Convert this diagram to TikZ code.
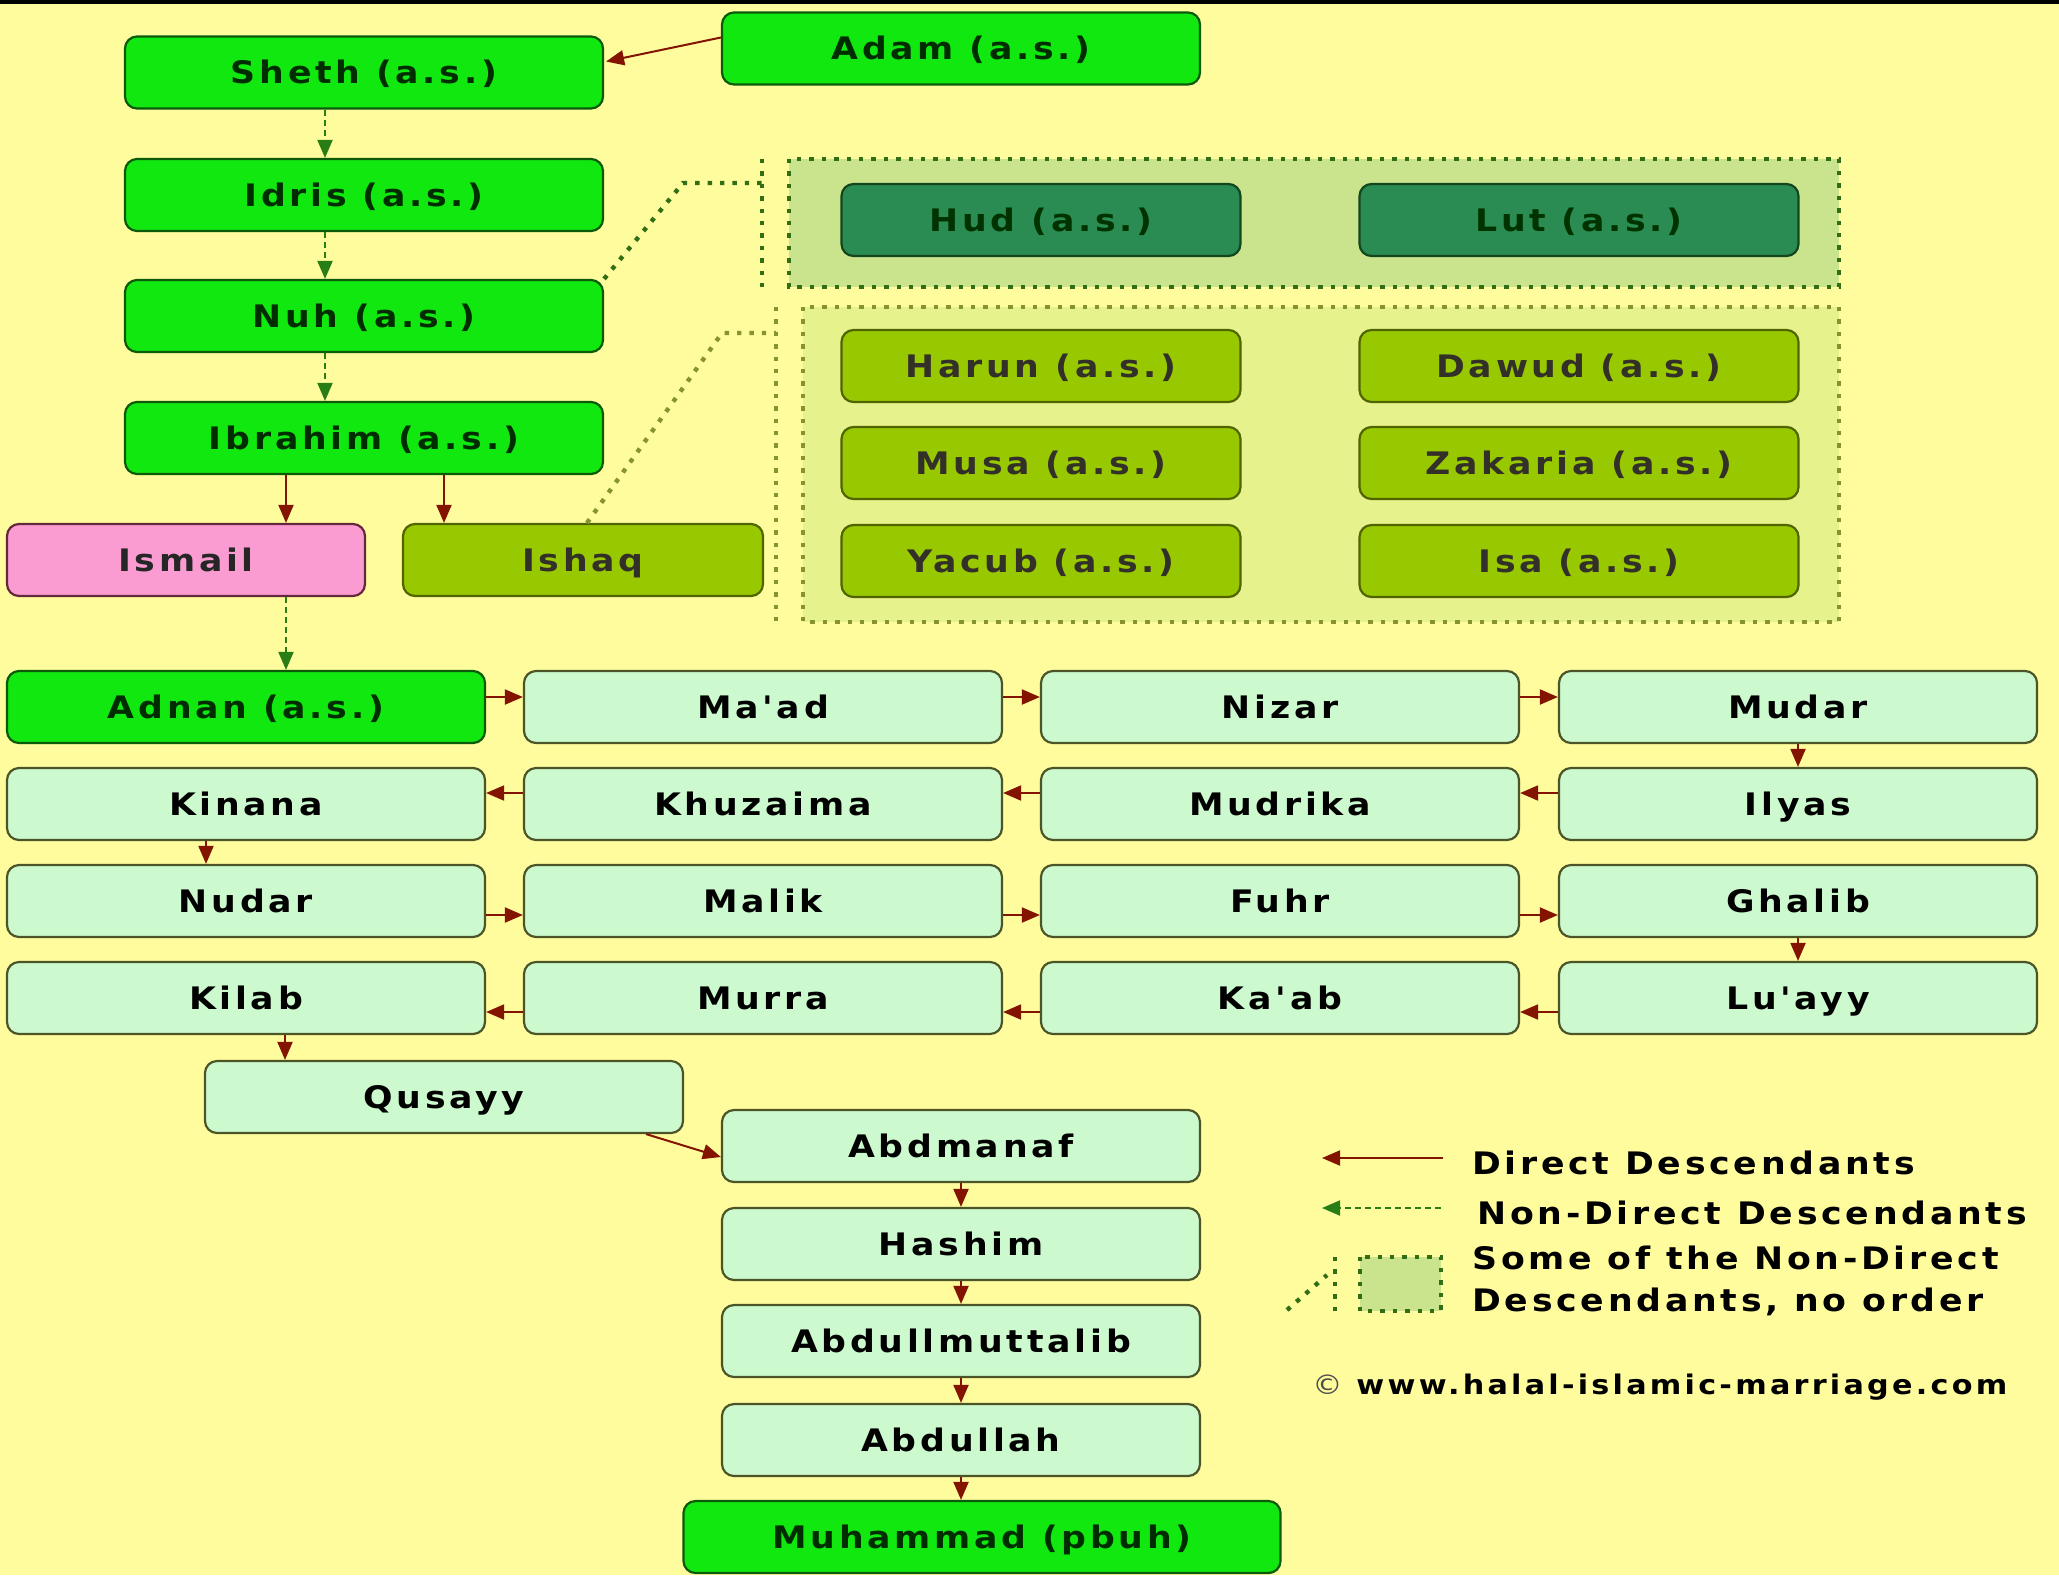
\documentclass[tikz,border=0pt]{standalone}
\usepackage{fontspec}
\usepackage{tikz}
\usetikzlibrary{arrows.meta,calc}
\newfontfamily\boxfont{DejaVu Sans}[FakeStretch=1.12,LetterSpace=12]

\definecolor{bgyellow}{RGB}{255,252,158}
\definecolor{limefill}{RGB}{16,232,16}
\definecolor{limeline}{RGB}{10,90,10}
\definecolor{limetext}{RGB}{0,45,0}
\definecolor{mintfill}{RGB}{204,250,206}
\definecolor{mintline}{RGB}{75,85,40}
\definecolor{pinkfill}{RGB}{250,155,210}
\definecolor{pinkline}{RGB}{100,40,60}
\definecolor{olivefill}{RGB}{152,200,0}
\definecolor{oliveline}{RGB}{80,100,0}
\definecolor{tealfill}{RGB}{42,140,82}
\definecolor{tealline}{RGB}{20,70,30}
\definecolor{groupone}{RGB}{202,228,142}
\definecolor{grouptwo}{RGB}{230,242,140}
\definecolor{dotgreen}{RGB}{50,110,20}
\definecolor{dotolive}{RGB}{135,148,45}
\definecolor{arrowred}{RGB}{130,20,0}
\definecolor{arrowgreen}{RGB}{40,125,20}

\tikzset{
  person/.style={draw, rounded corners=6pt, line width=1.1pt, minimum width=239pt,
    minimum height=36pt, inner sep=0pt, text height=11.3pt, text depth=0pt,
    font=\boxfont\bfseries\fontsize{15.5}{18}\selectfont},
  limebox/.style={person, fill=limefill, draw=limeline, text=limetext},
  mintbox/.style={person, fill=mintfill, draw=mintline, text=black},
  pinkbox/.style={person, fill=pinkfill, draw=pinkline, text=black!85, minimum width=179pt},
  olivebox/.style={person, fill=olivefill, draw=oliveline, text=black!85!olive},
  tealbox/.style={person, fill=tealfill, draw=tealline, text=black!80!green},
  direct/.style={draw=arrowred, line width=1pt, -{Triangle[length=9pt,width=7.5pt]}, arrowred},
  indirect/.style={draw=arrowgreen, line width=1pt, dash pattern=on 3pt off 2pt,
    -{Triangle[length=9pt,width=7.5pt]}, arrowgreen},
  dotline/.style={line width=2.2pt, dash pattern=on 2.2pt off 4pt},
  keytext/.style={anchor=west, inner sep=0pt, font=\boxfont\bfseries\fontsize{15.5}{21}\selectfont}
}

\begin{document}
\begin{tikzpicture}[x=0.5pt,y=0.5pt,yscale=-1,xscale=1]
\useasboundingbox (0,0) rectangle (2059,1575);
% background and top rule
\fill[bgyellow] (0,0) rectangle (2059,1575);
\fill[black] (0,0) rectangle (2059,4);

% groups of non-direct descendants
\draw[dotline, draw=dotgreen, fill=groupone] (789,159) rectangle (1839,287);
\draw[dotline, draw=dotgreen] (762,159) -- (762,287);
\draw[dotline, draw=dotolive, fill=grouptwo] (803,307) rectangle (1839,622);
\draw[dotline, draw=dotolive] (776,307) -- (776,622);
\coordinate (barone) at (762,183);
\coordinate (bartwo) at (776,333);

% first line
\node[limebox] (adam) at (961,48.5) {Adam (a.s.)};
\node[limebox] (sheth) at (364,72.5) {Sheth (a.s.)};
\node[limebox] (idris) at (364,195) {Idris (a.s.)};
\node[limebox] (nuh) at (364,316) {Nuh (a.s.)};
\node[limebox] (ibrahim) at (364,438) {Ibrahim (a.s.)};
\node[pinkbox] (ismail) at (186,560) {Ismail};
\node[olivebox, minimum width=180pt] (ishaq) at (583,560) {Ishaq};

% non-direct descendants
\node[tealbox, minimum width=199.5pt] (hud) at (1041,220) {Hud (a.s.)};
\node[tealbox, minimum width=219.5pt] (lut) at (1579,220) {Lut (a.s.)};
\node[olivebox, minimum width=199.5pt] (harun) at (1041,366) {Harun (a.s.)};
\node[olivebox, minimum width=199.5pt] (musa) at (1041,463) {Musa (a.s.)};
\node[olivebox, minimum width=199.5pt] (yacub) at (1041,561) {Yacub (a.s.)};
\node[olivebox, minimum width=219.5pt] (dawud) at (1579,366) {Dawud (a.s.)};
\node[olivebox, minimum width=219.5pt] (zakaria) at (1579,463) {Zakaria (a.s.)};
\node[olivebox, minimum width=219.5pt] (isa) at (1579,561) {Isa (a.s.)};

% grid
\node[limebox] (adnan) at (246,707) {Adnan (a.s.)};
\node[mintbox] (maad) at (763,707) {Ma'ad};
\node[mintbox] (nizar) at (1280,707) {Nizar};
\node[mintbox] (mudar) at (1798,707) {Mudar};
\node[mintbox] (kinana) at (246,804) {Kinana};
\node[mintbox] (khuzaima) at (763,804) {Khuzaima};
\node[mintbox] (mudrika) at (1280,804) {Mudrika};
\node[mintbox] (ilyas) at (1798,804) {Ilyas};
\node[mintbox] (nudar) at (246,901) {Nudar};
\node[mintbox] (malik) at (763,901) {Malik};
\node[mintbox] (fuhr) at (1280,901) {Fuhr};
\node[mintbox] (ghalib) at (1798,901) {Ghalib};
\node[mintbox] (kilab) at (246,998) {Kilab};
\node[mintbox] (murra) at (763,998) {Murra};
\node[mintbox] (kaab) at (1280,998) {Ka'ab};
\node[mintbox] (luayy) at (1798,998) {Lu'ayy};

% last line
\node[mintbox] (qusayy) at (444,1097) {Qusayy};
\node[mintbox] (abdmanaf) at (961,1146) {Abdmanaf};
\node[mintbox] (hashim) at (961,1244) {Hashim};
\node[mintbox] (muttalib) at (961,1341) {Abdullmuttalib};
\node[mintbox] (abdullah) at (961,1440) {Abdullah};
\node[limebox, minimum width=298.5pt] (muhammad) at (982,1537) {Muhammad (pbuh)};

% connectors
\draw[direct] ($(adam.west)+(0,-11)$) -- ($(sheth.east)+(2,-11)$);
\draw[indirect] ($(sheth.south)+(-39,0)$) -- ($(idris.north)+(-39,0)$);
\draw[indirect] ($(idris.south)+(-39,0)$) -- ($(nuh.north)+(-39,0)$);
\draw[indirect] ($(nuh.south)+(-39,0)$) -- ($(ibrahim.north)+(-39,0)$);
\draw[direct] ($(ibrahim.south)+(-78,0)$) -- ($(ismail.north)+(100,0)$);
\draw[direct] ($(ibrahim.south)+(80,0)$) -- ($(ishaq.north)+(-139,0)$);
\draw[indirect] ($(ismail.south)+(100,0)$) -- ($(adnan.north)+(40,0)$);
\draw[dotline, draw=dotgreen] (nuh.north east) -- (683,183) -- (barone);
\draw[dotline, draw=dotolive] ($(ishaq.north)+(4,0)$) -- (722,333) -- (bartwo);

\draw[direct] ($(adnan.east)+(0,-10)$) -- ($(maad.west)+(0,-10)$);
\draw[direct] ($(maad.east)+(0,-10)$) -- ($(nizar.west)+(0,-10)$);
\draw[direct] ($(nizar.east)+(0,-10)$) -- ($(mudar.west)+(0,-10)$);
\draw[direct] (mudar.south) -- (ilyas.north);
\draw[direct] ($(ilyas.west)+(0,-11)$) -- ($(mudrika.east)+(0,-11)$);
\draw[direct] ($(mudrika.west)+(0,-11)$) -- ($(khuzaima.east)+(0,-11)$);
\draw[direct] ($(khuzaima.west)+(0,-11)$) -- ($(kinana.east)+(0,-11)$);
\draw[direct] ($(kinana.south)+(-40,0)$) -- ($(nudar.north)+(-40,0)$);
\draw[direct] ($(nudar.east)+(0,14)$) -- ($(malik.west)+(0,14)$);
\draw[direct] ($(malik.east)+(0,14)$) -- ($(fuhr.west)+(0,14)$);
\draw[direct] ($(fuhr.east)+(0,14)$) -- ($(ghalib.west)+(0,14)$);
\draw[direct] (ghalib.south) -- (luayy.north);
\draw[direct] ($(luayy.west)+(0,14)$) -- ($(kaab.east)+(0,14)$);
\draw[direct] ($(kaab.west)+(0,14)$) -- ($(murra.east)+(0,14)$);
\draw[direct] ($(murra.west)+(0,14)$) -- ($(kilab.east)+(0,14)$);
\draw[direct] ($(kilab.south)+(39,0)$) -- ($(qusayy.north)+(-159,0)$);
\draw[direct] ($(qusayy.south east)+(-38,0)$) -- ($(abdmanaf.west)+(0,11)$);
\draw[direct] (abdmanaf.south) -- (hashim.north);
\draw[direct] (hashim.south) -- (muttalib.north);
\draw[direct] (muttalib.south) -- (abdullah.north);
\draw[direct] (abdullah.south) -- (abdullah.south |- muhammad.north);

% legend
\coordinate (keydirA) at (1443,1158);
\coordinate (keydirB) at (1322,1158);
\coordinate (keyindA) at (1441,1208);
\coordinate (keyindB) at (1322,1208);
\draw[direct] (keydirA) -- (keydirB);
\draw[indirect] (keyindA) -- (keyindB);
\draw[dotline, draw=dotgreen, fill=groupone] (1360,1257) rectangle (1441,1311);
\draw[dotline, draw=dotgreen] (1335,1257) -- (1335,1311);
\draw[dotline, draw=dotgreen] (1287,1310) -- (1327,1275);
\node[keytext] (keydir) at (1472,1163) {Direct Descendants};
\node[keytext] (keyind) at (1477,1213) {Non-Direct Descendants};
\node[keytext, align=left] (keygroup) at (1472,1281) {Some of the Non-Direct\\Descendants, no order};
\node[keytext, font=\boxfont\bfseries\fontsize{13.5}{16}\selectfont] (copy) at (1312,1387)
  {{\mdseries\color{black!70}\textcopyright} www.halal-islamic-marriage.com};
\end{tikzpicture}
\end{document}
